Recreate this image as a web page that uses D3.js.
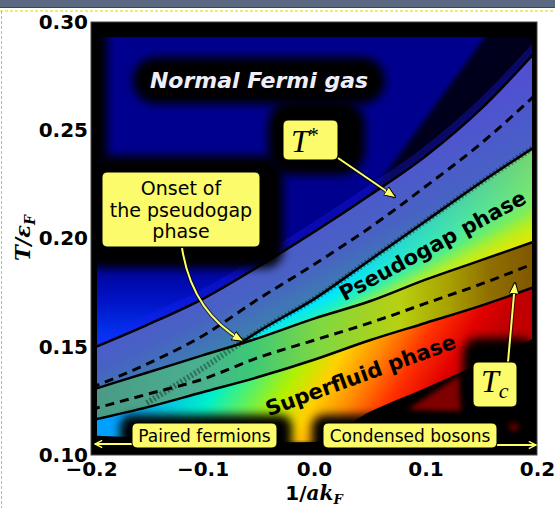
<!DOCTYPE html>
<html>
<head>
<meta charset="utf-8">
<script src="https://cdn.jsdelivr.net/npm/d3@7"></script>
<style>
body { margin: 0; background: #fff; }
svg { display: block; }
</style>
</head>
<body>
<script>
// values (x = 1/akF, y = T/eF)
var xs = [-0.2, -0.15, -0.1, -0.05, 0.0, 0.05, 0.1, 0.15, 0.2];
var tStarUpper = [0.149, 0.160, 0.172, 0.187, 0.203, 0.220, 0.238, 0.260, 0.287];
var tStar = [0.131, 0.142, 0.155, 0.172, 0.188, 0.205, 0.224, 0.244, 0.267];
var tStarLower = [null, 0.124, 0.140, 0.157, 0.172, 0.190, 0.208, 0.226, 0.243];
var tcUpper = [0.130, 0.138, 0.146, 0.154, 0.163, 0.171, 0.181, 0.190, 0.199];
var tc = [0.121, 0.128, 0.135, 0.145, 0.153, 0.161, 0.170, 0.179, 0.189];
var tcLower = [0.116, 0.122, 0.129, 0.136, 0.144, 0.153, 0.161, 0.169, 0.178];
var superfluidEdge = [0.109, 0.108, 0.1065, 0.1058, 0.106, 0.120, 0.131, 0.1425, 0.1545];
var darkPatchX = [0.0834, 0.131, 0.1327];
var darkPatchY = [0.1208, 0.137, 0.1199];
var xTicks = [-0.2, -0.1, 0.0, 0.1, 0.2];
var yTicks = [0.10, 0.15, 0.20, 0.25, 0.30];

var W = 555, H = 508;
var svg = d3.select("body").append("svg").attr("width", W).attr("height", H);
var defs = svg.append("defs");

var x = d3.scaleLinear().domain([-0.2, 0.2]).range([91, 537]);
var y = d3.scaleLinear().domain([0.10, 0.30]).range([455, 22]);

var rows = xs.map(function(v, i){
    return {x: v, a: tStarUpper[i], t: tStar[i], c: tStarLower[i],
            u: tcUpper[i], m: tc[i], l: tcLower[i], e: superfluidEdge[i]};
});

function linGrad(id, x1, y1, x2, y2, stops){
    var g = defs.append("linearGradient").attr("id", id)
        .attr("gradientUnits", "userSpaceOnUse")
        .attr("x1", x1).attr("y1", y1).attr("x2", x2).attr("y2", y2);
    stops.forEach(function(s){
        g.append("stop").attr("offset", s[0]).attr("stop-color", s[1])
            .attr("stop-opacity", s.length > 2 ? s[2] : 1);
    });
}
linGrad("glow", 0, 350, 0, 262, [[0, "#0044ff"], [0.55, "#0014c8"], [1, "#00008f"]]);
linGrad("purple", 0, 340, 56, 452, [[0, "#5050d2"], [0.57, "#4862c4"], [0.79, "#3f78b4"], [1, "#3a8ca0"]]);
linGrad("cyan", 0, 425, 32, 489, [[0, "#00c0ff"], [0.44, "#00e6ff"], [0.62, "#20f0c0"], [0.81, "#a0f040"], [1, "#f0e400"]]);
linGrad("cyanWarm", 330, 0, 530, 0, [[0, "#c8f000", 0], [1, "#d2ea00", 0.55]]);
linGrad("tcband", 97, 0, 532, 0, [[0, "#4a9a86"], [0.237, "#4ab090"], [0.352, "#3cc878"], [0.513, "#80d840"],
    [0.697, "#b8d010"], [0.81, "#a8a000"], [0.9, "#907000"], [1, "#805800"]]);
linGrad("superfluid", 100, 450, 342.6, 595.6, [[0, "#00a0ff"], [0.242, "#00f0c8"], [0.455, "#b4f000"], [0.56, "#ffd000"],
    [0.667, "#ff8c00"], [0.788, "#ff3000"], [0.909, "#e00000"], [1, "#c00000"]]);

defs.append("filter").attr("id", "blur").attr("x", "-40%").attr("y", "-40%").attr("width", "180%").attr("height", "180%")
    .append("feGaussianBlur").attr("stdDeviation", 5);
defs.append("filter").attr("id", "soft").attr("x", "-20%").attr("y", "-20%").attr("width", "140%").attr("height", "140%")
    .append("feGaussianBlur").attr("stdDeviation", 2.5);
defs.append("clipPath").attr("id", "field").append("rect")
    .attr("x", 97).attr("y", 37).attr("width", 435).attr("height", 415).attr("rx", 8);

var curve = d3.curveMonotoneX;
function band(top, bottom){
    return d3.area().curve(curve)
        .defined(function(d){ return d[top] != null && d[bottom] != null; })
        .x(function(d){ return x(d.x); })
        .y0(function(d){ return y(d[bottom]); })
        .y1(function(d){ return y(d[top]); });
}
function line(key){
    return d3.line().curve(curve)
        .defined(function(d){ return d[key] != null; })
        .x(function(d){ return x(d.x); })
        .y(function(d){ return y(d[key]); });
}

defs.append("clipPath").attr("id", "aboveTc").append("path")
    .attr("d", d3.area().curve(curve).x(function(d){ return x(d.x); })
        .y0(0).y1(function(d){ return y(d.u); })(rows));

// window chrome of the screenshot
svg.append("rect").attr("x", 0).attr("y", 0).attr("width", W).attr("height", 7).attr("fill", "#5a6882");
svg.append("line").attr("x1", 0).attr("x2", W).attr("y1", 7.5).attr("y2", 7.5).attr("stroke", "#3a4558");
svg.append("line").attr("x1", 0).attr("x2", W).attr("y1", 11).attr("y2", 11)
    .attr("stroke", "#d6d600").attr("stroke-dasharray", "3,2");
svg.append("line").attr("x1", 1.5).attr("x2", 1.5).attr("y1", 11).attr("y2", H)
    .attr("stroke", "#c8c830").attr("stroke-dasharray", "3,2");

// axes background
svg.append("rect").attr("x", 91).attr("y", 22).attr("width", 446).attr("height", 433)
    .attr("fill", "#000").attr("stroke", "#444").attr("stroke-width", 1);

var field = svg.append("g").attr("clip-path", "url(#field)");

// normal Fermi gas region
field.append("path").attr("fill", "#00008f")
    .attr("d", d3.area().curve(curve).x(function(d){ return x(d.x); })
        .y0(30).y1(function(d){ return y(d.a); })(rows));
field.append("path").attr("fill", "url(#glow)")
    .attr("d", d3.area().curve(curve).x(function(d){ return x(d.x); })
        .y0(function(d){ return y(d.a) - 80; }).y1(function(d){ return y(d.a); })(rows.filter(function(d){ return d.x <= -0.05; })));
var wedge = [[490, 30], [545, 30]].concat(rows.filter(function(d){ return d.x >= 0.05; }).reverse()
    .map(function(d){ return [x(d.x), y(d.a)]; }));
field.append("path").attr("d", "M" + wedge.join("L") + "Z")
    .attr("fill", "#000").attr("opacity", 0.8).attr("filter", "url(#soft)");
field.append("path").attr("d", line("a")(rows)).attr("fill", "none")
    .attr("stroke", "#1e1eff").attr("stroke-width", 9).attr("opacity", 0.3)
    .attr("transform", "translate(0,-5)");

// bands
field.append("path").attr("d", band("a", "u")(rows)).attr("fill", "url(#purple)");
field.append("path").attr("d", band("c", "u")(rows)).attr("fill", "url(#cyan)");
field.append("path").attr("d", band("c", "u")(rows)).attr("fill", "url(#cyanWarm)");
field.append("path").attr("d", band("u", "l")(rows)).attr("fill", "url(#tcband)");
field.append("path").attr("d", band("l", "e")(rows)).attr("fill", "url(#superfluid)");
field.append("path").attr("fill", "#800000").attr("filter", "url(#soft)")
    .attr("d", "M" + darkPatchX.map(function(v, i){ return [x(v), y(darkPatchY[i])]; }).join("L") + "Z");
field.append("circle").attr("cx", x(0.1785)).attr("cy", y(0.1139)).attr("r", 6)
    .attr("fill", "#800000").attr("filter", "url(#soft)");

// dark halos round the labels
var halos = [[133, 57, 252, 47, 23], [268, 100, 97, 75, 25], [85, 156, 198, 112, 18], [80, 22, 27, 140, 0],
             [120, 415, 172, 44, 12], [312, 415, 196, 44, 12], [463, 338, 72, 86, 15], [91, 446, 446, 14, 0]];
halos.forEach(function(h){
    field.append("rect").attr("x", h[0]).attr("y", h[1]).attr("width", h[2]).attr("height", h[3])
        .attr("rx", h[4]).attr("fill", "#000").attr("filter", "url(#blur)");
});

// boundary lines
field.append("path").attr("d", line("c")(rows)).attr("fill", "none")
    .attr("stroke", "#000").attr("stroke-width", 6).attr("stroke-dasharray", "2,2").attr("opacity", 0.35);
field.append("path").attr("d", line("a")(rows)).attr("fill", "none").attr("stroke", "#000").attr("stroke-width", 2.5);
field.append("path").attr("d", line("c")(rows)).attr("fill", "none").attr("stroke", "#000").attr("stroke-width", 2.5)
    .attr("clip-path", "url(#aboveTc)");
field.append("path").attr("d", line("t")(rows)).attr("fill", "none").attr("stroke", "#000")
    .attr("stroke-width", 3).attr("stroke-dasharray", "9,6");
field.append("path").attr("d", line("u")(rows)).attr("fill", "none").attr("stroke", "#000").attr("stroke-width", 2.5);
field.append("path").attr("d", line("m")(rows)).attr("fill", "none").attr("stroke", "#000")
    .attr("stroke-width", 3).attr("stroke-dasharray", "9,6");
field.append("path").attr("d", line("l")(rows)).attr("fill", "none").attr("stroke", "#000").attr("stroke-width", 2.5);

// region names
field.append("text").attr("x", 259).attr("y", 88).attr("text-anchor", "middle")
    .attr("font-family", "DejaVu Sans").attr("font-weight", "bold").attr("font-style", "italic")
    .attr("font-size", 22).attr("fill", "#eeeefa").text("Normal Fermi gas");
field.append("text").attr("transform", "translate(436,252) rotate(-28.4)").attr("text-anchor", "middle")
    .attr("font-family", "DejaVu Sans").attr("font-weight", "bold").attr("font-size", 21)
    .attr("fill", "#000").text("Pseudogap phase");
field.append("text").attr("transform", "translate(363,382) rotate(-20)").attr("text-anchor", "middle")
    .attr("font-family", "DejaVu Sans").attr("font-weight", "bold").attr("font-size", 21)
    .attr("fill", "#000").text("Superfluid phase");

// arrows
function marker(id, open){
    var m = defs.append("marker").attr("id", id).attr("viewBox", "0 0 10 10")
        .attr("refX", 9).attr("refY", 5).attr("markerWidth", open ? 9 : 12).attr("markerHeight", open ? 9 : 12)
        .attr("markerUnits", "userSpaceOnUse").attr("orient", "auto");
    if (open) m.append("path").attr("d", "M1,1 L9,5 L1,9").attr("fill", "none").attr("stroke", "#ffff66").attr("stroke-width", 1.6);
    else m.append("path").attr("d", "M0,1 L10,5 L0,9 Z").attr("fill", "#ffff66").attr("stroke", "#000").attr("stroke-width", 0.8);
}
marker("head", false);
marker("open", true);
var arrows = [
    ["M338,158 L395,197", "head"],
    ["M182,248 Q192,312 243,341", "head"],
    ["M508,362 L515,283", "head"],
    ["M132,444 L95,444", "open"],
    ["M497,445 L536,445", "open"]
];
arrows.forEach(function(a){
    svg.append("path").attr("d", a[0]).attr("fill", "none").attr("stroke", "#000").attr("stroke-width", 4).attr("opacity", 0.6);
    svg.append("path").attr("d", a[0]).attr("fill", "none").attr("stroke", "#ffff66").attr("stroke-width", 2)
        .attr("marker-end", "url(#" + a[1] + ")");
});

// yellow label boxes
var boxes = [[283, 120, 55, 40], [102, 172, 158, 75], [132, 423, 145, 25], [323, 423, 174, 25], [473, 362, 44, 45]];
boxes.forEach(function(b){
    svg.append("rect").attr("x", b[0]).attr("y", b[1]).attr("width", b[2]).attr("height", b[3])
        .attr("rx", 5).attr("fill", "#fbfb6c").attr("stroke", "#000").attr("stroke-width", 1);
});
var ts = svg.append("text").attr("x", 291).attr("y", 152).attr("font-family", "Liberation Serif")
    .attr("font-style", "italic").attr("font-size", 32).attr("fill", "#000");
ts.append("tspan").text("T");
ts.append("tspan").attr("font-size", 20).attr("font-style", "normal").attr("dy", -10).text("*");
var tcl = svg.append("text").attr("x", 481).attr("y", 392).attr("font-family", "Liberation Serif")
    .attr("font-style", "italic").attr("font-size", 32).attr("fill", "#000");
tcl.append("tspan").text("T");
tcl.append("tspan").attr("font-size", 22).attr("dy", 6).text("c");
["Onset of", "the pseudogap", "phase"].forEach(function(s, i){
    svg.append("text").attr("x", 181).attr("y", 195 + i * 21.5).attr("text-anchor", "middle")
        .attr("font-family", "DejaVu Sans").attr("font-size", 19).attr("fill", "#000").text(s);
});
svg.append("text").attr("x", 204.5).attr("y", 442).attr("text-anchor", "middle")
    .attr("font-family", "DejaVu Sans").attr("font-size", 17).attr("fill", "#000").text("Paired fermions");
svg.append("text").attr("x", 410).attr("y", 442).attr("text-anchor", "middle")
    .attr("font-family", "DejaVu Sans").attr("font-size", 17).attr("fill", "#000").text("Condensed bosons");

// axes
var xAxis = svg.append("g").attr("transform", "translate(0,455)")
    .call(d3.axisBottom(x).tickValues(xTicks).tickSize(0).tickPadding(7).tickFormat(d3.format(".1f")));
var yAxis = svg.append("g").attr("transform", "translate(91,0)")
    .call(d3.axisLeft(y).tickValues(yTicks).tickSize(0).tickPadding(3).tickFormat(d3.format(".2f")));
[xAxis, yAxis].forEach(function(g){
    g.select(".domain").remove();
    g.selectAll("text").attr("font-family", "DejaVu Sans").attr("font-weight", "bold")
        .attr("font-size", 20).attr("fill", "#000");
});

var xl = svg.append("text").attr("x", 314).attr("y", 500).attr("text-anchor", "middle")
    .attr("font-family", "DejaVu Serif").attr("font-weight", "bold").attr("font-size", 20).attr("fill", "#000");
xl.append("tspan").attr("font-family", "DejaVu Sans").text("1/");
xl.append("tspan").attr("font-style", "italic").text("ak");
xl.append("tspan").attr("font-style", "italic").attr("font-size", 13).attr("dy", 4).text("F");
var yl = svg.append("text").attr("transform", "translate(30,238) rotate(-90)").attr("text-anchor", "middle")
    .attr("font-family", "DejaVu Serif").attr("font-weight", "bold").attr("font-style", "italic")
    .attr("font-size", 21).attr("fill", "#000");
yl.append("tspan").text("T/ε");
yl.append("tspan").attr("font-size", 14).attr("dy", 5).text("F");
</script>
</body>
</html>
